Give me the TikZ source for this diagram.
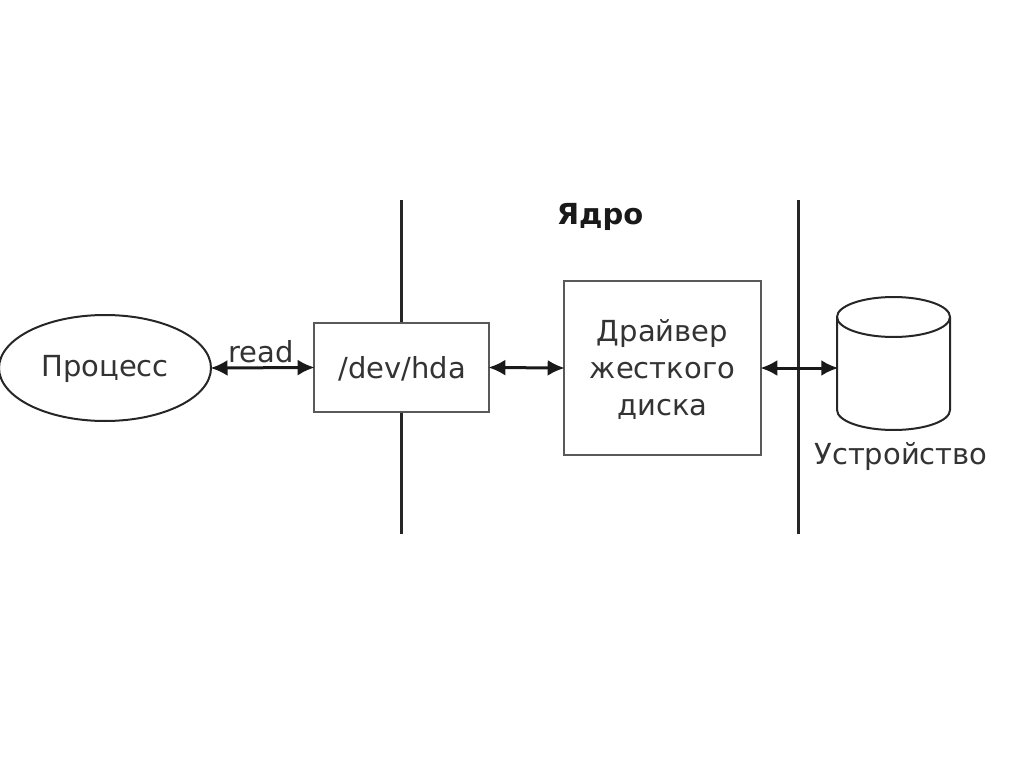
\documentclass[tikz,border=0pt]{standalone}
\usepackage{fontspec}
\setmainfont{DejaVu Sans}
\usepackage{tikz}
\usetikzlibrary{positioning}
\usetikzlibrary{shapes.geometric}
\usetikzlibrary{arrows.meta}

\begin{document}
\begin{tikzpicture}[
x=1pt, y=-1pt,
textlabel/.style={font=\fontsize{29}{37}\selectfont, text=black!80, inner sep=0},
box/.style={draw=black!65, fill=white, line width=1.6pt, inner sep=0, align=center, textlabel},
wall/.style={line width=3pt, black!85},
disk/.style={line width=2pt, black!85},
link/.style={{Latex[length=17pt,width=16pt]}-{Latex[length=17pt,width=16pt]}, line width=3pt, black!90, shorten <=-1.5pt, shorten >=-1.5pt}
]
\useasboundingbox (0,0) rectangle (1024,767);
% Walls
\coordinate (wall1top) at (401,200);
\coordinate (wall1bot) at (401,534);
\coordinate (wall2top) at (798,200);
\coordinate (wall2bot) at (798,534);
\draw[wall] (wall1top) -- (wall1bot);
\draw[wall] (wall2top) -- (wall2bot);
% Nodes
\node[ellipse, draw=black!85, line width=2pt, inner sep=0, minimum width=212pt, minimum height=106pt] (proc) at (105,368) {};
\node[textlabel] (proctext) at (105,369) {Процесс};
\node[box, minimum width=175pt, minimum height=89pt] (hda) at (401.5,367.5) {};
\node[textlabel] (hdatext) at (402,369) {/dev/hda};
\node[box, minimum width=197pt, minimum height=174pt] (driver) at (662.5,368) {};
\node[textlabel, align=center] (drivertext) at (662.5,369) {Драйвер\\жесткого\\диска};
\node[inner sep=0, minimum width=113pt, minimum height=133pt] (disk) at (893.5,363.5) {};
\node[textlabel] (read) at (261,352) {read};
\node[textlabel, font=\fontsize{29}{37}\selectfont\bfseries, text=black!90] (kernel) at (600,217) {Ядро};
\node[textlabel] (devname) at (901,456) {Устройство};
% Disk
\draw[disk] (893.5,317) ellipse [x radius=56.5, y radius=20];
\draw[disk] (837,317) -- (837,410) arc [start angle=180, end angle=0, x radius=56.5, y radius=20] -- (950,317);
% Links
\draw[link] (proc.east) -- (hda.west);
\draw[link] (hda.east) -- (driver.west);
\draw[link] (driver.east) -- (driver.east -| disk.west);
\end{tikzpicture}
\end{document}
